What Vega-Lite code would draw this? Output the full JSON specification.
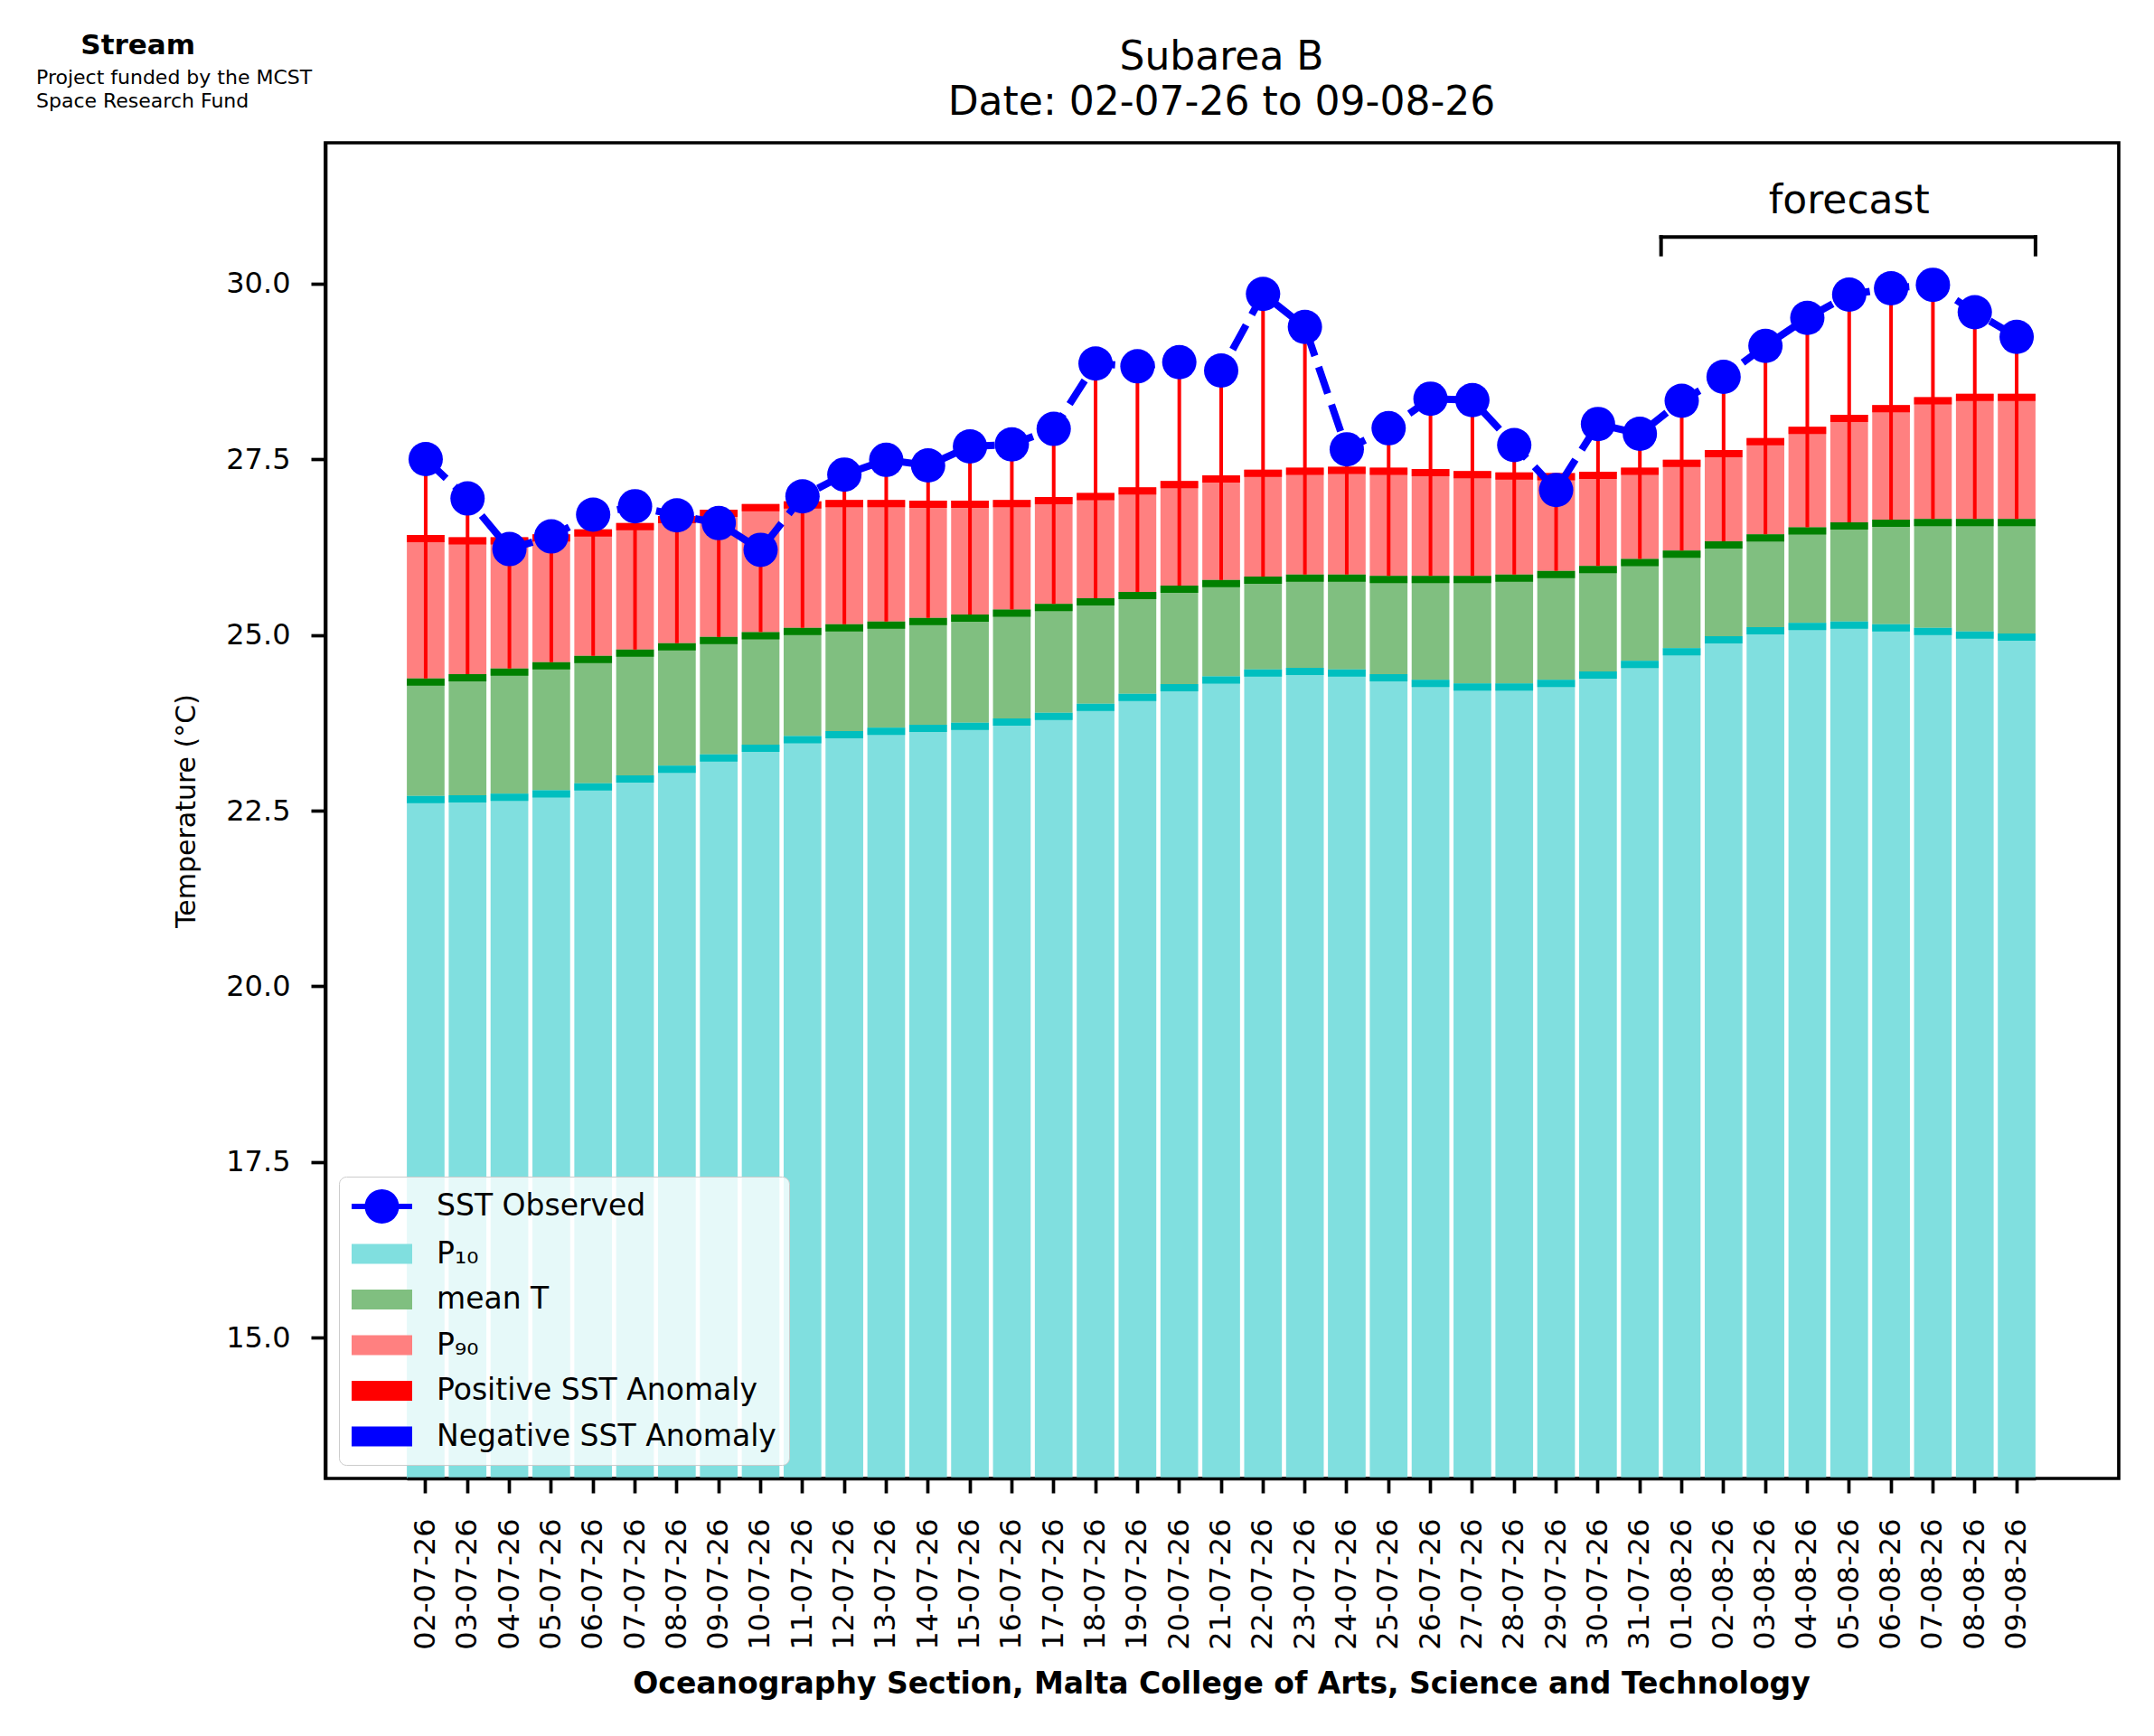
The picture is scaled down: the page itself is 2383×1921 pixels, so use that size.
{
  "$schema": "https://vega.github.io/schema/vega-lite/v6.json",
  "width": 1984,
  "height": 1478,
  "padding": {"left": 40, "top": 35, "right": 37, "bottom": 30},
  "background": "white",
  "config": {
    "font": "DejaVu Sans",
    "view": {"stroke": "black", "strokeWidth": 3.7},
    "axis": {"labelFont": "DejaVu Sans", "titleFont": "DejaVu Sans", "labelColor": "black", "titleColor": "black", "domainColor": "black", "tickColor": "black", "grid": false}
  },
  "title": {
    "text": "\u200b\u00a0\u00a0\u00a0\u00a0\u2009Stream",
    "subtitle": ["Project funded by the MCST", "Space Research Fund"],
    "anchor": "start",
    "frame": "group",
    "dx": -320,
    "offset": -83,
    "font": "DejaVu Sans",
    "fontSize": 31,
    "fontWeight": "bold",
    "color": "black",
    "subtitleFont": "DejaVu Sans",
    "subtitleFontSize": 22,
    "subtitleColor": "black",
    "subtitleLineHeight": 26,
    "subtitlePadding": 9
  },
  "datasets": {
    "sst": [
      {"date": "02-07-26", "p10": 22.71, "mean": 24.38, "p90": 26.42, "sst": 27.50},
      {"date": "03-07-26", "p10": 22.72, "mean": 24.44, "p90": 26.39, "sst": 26.94},
      {"date": "04-07-26", "p10": 22.74, "mean": 24.52, "p90": 26.39, "sst": 26.22},
      {"date": "05-07-26", "p10": 22.79, "mean": 24.61, "p90": 26.43, "sst": 26.40},
      {"date": "06-07-26", "p10": 22.89, "mean": 24.70, "p90": 26.50, "sst": 26.71},
      {"date": "07-07-26", "p10": 23.00, "mean": 24.79, "p90": 26.59, "sst": 26.83},
      {"date": "08-07-26", "p10": 23.14, "mean": 24.88, "p90": 26.69, "sst": 26.70},
      {"date": "09-07-26", "p10": 23.30, "mean": 24.97, "p90": 26.78, "sst": 26.59},
      {"date": "10-07-26", "p10": 23.44, "mean": 25.04, "p90": 26.86, "sst": 26.21},
      {"date": "11-07-26", "p10": 23.56, "mean": 25.10, "p90": 26.90, "sst": 26.97},
      {"date": "12-07-26", "p10": 23.63, "mean": 25.15, "p90": 26.92, "sst": 27.28},
      {"date": "13-07-26", "p10": 23.68, "mean": 25.19, "p90": 26.92, "sst": 27.49},
      {"date": "14-07-26", "p10": 23.72, "mean": 25.24, "p90": 26.91, "sst": 27.41},
      {"date": "15-07-26", "p10": 23.75, "mean": 25.29, "p90": 26.91, "sst": 27.68},
      {"date": "16-07-26", "p10": 23.81, "mean": 25.36, "p90": 26.92, "sst": 27.71},
      {"date": "17-07-26", "p10": 23.89, "mean": 25.44, "p90": 26.96, "sst": 27.93},
      {"date": "18-07-26", "p10": 24.02, "mean": 25.52, "p90": 27.02, "sst": 28.86},
      {"date": "19-07-26", "p10": 24.16, "mean": 25.61, "p90": 27.10, "sst": 28.82},
      {"date": "20-07-26", "p10": 24.30, "mean": 25.70, "p90": 27.19, "sst": 28.88},
      {"date": "21-07-26", "p10": 24.41, "mean": 25.78, "p90": 27.27, "sst": 28.76},
      {"date": "22-07-26", "p10": 24.51, "mean": 25.83, "p90": 27.35, "sst": 29.85},
      {"date": "23-07-26", "p10": 24.53, "mean": 25.86, "p90": 27.38, "sst": 29.38},
      {"date": "24-07-26", "p10": 24.51, "mean": 25.86, "p90": 27.39, "sst": 27.64},
      {"date": "25-07-26", "p10": 24.44, "mean": 25.84, "p90": 27.38, "sst": 27.94},
      {"date": "26-07-26", "p10": 24.36, "mean": 25.84, "p90": 27.36, "sst": 28.36},
      {"date": "27-07-26", "p10": 24.31, "mean": 25.84, "p90": 27.33, "sst": 28.34},
      {"date": "28-07-26", "p10": 24.31, "mean": 25.86, "p90": 27.31, "sst": 27.70},
      {"date": "29-07-26", "p10": 24.36, "mean": 25.91, "p90": 27.30, "sst": 27.06},
      {"date": "30-07-26", "p10": 24.48, "mean": 25.98, "p90": 27.32, "sst": 28.00},
      {"date": "31-07-26", "p10": 24.63, "mean": 26.08, "p90": 27.38, "sst": 27.86},
      {"date": "01-08-26", "p10": 24.81, "mean": 26.20, "p90": 27.49, "sst": 28.33},
      {"date": "02-08-26", "p10": 24.98, "mean": 26.33, "p90": 27.63, "sst": 28.67},
      {"date": "03-08-26", "p10": 25.11, "mean": 26.43, "p90": 27.80, "sst": 29.11},
      {"date": "04-08-26", "p10": 25.17, "mean": 26.53, "p90": 27.96, "sst": 29.51},
      {"date": "05-08-26", "p10": 25.19, "mean": 26.60, "p90": 28.13, "sst": 29.84},
      {"date": "06-08-26", "p10": 25.15, "mean": 26.64, "p90": 28.27, "sst": 29.93},
      {"date": "07-08-26", "p10": 25.10, "mean": 26.65, "p90": 28.38, "sst": 29.98},
      {"date": "08-08-26", "p10": 25.05, "mean": 26.65, "p90": 28.43, "sst": 29.59},
      {"date": "09-08-26", "p10": 25.02, "mean": 26.65, "p90": 28.43, "sst": 29.24}
    ],
    "forecast": [
      {"label": "forecast", "start": "01-08-26", "end": "09-08-26", "middle": "05-08-26"}
    ]
  },
  "data": {"name": "sst"},
  "resolve": {"axis": {"x": "independent"}},
  "layer": [
    {
      "mark": {"type": "bar", "opacity": 1},
      "encoding": {
        "x": {
          "field": "date", "type": "nominal", "sort": null,
          "scale": {"type": "band", "paddingInner": 0.1, "paddingOuter": 0, "range": [90.1, 1891.9],
            "domain": ["02-07-26","03-07-26","04-07-26","05-07-26","06-07-26","07-07-26","08-07-26","09-07-26","10-07-26","11-07-26","12-07-26","13-07-26","14-07-26","15-07-26","16-07-26","17-07-26","18-07-26","19-07-26","20-07-26","21-07-26","22-07-26","23-07-26","24-07-26","25-07-26","26-07-26","27-07-26","28-07-26","29-07-26","30-07-26","31-07-26","01-08-26","02-08-26","03-08-26","04-08-26","05-08-26","06-08-26","07-08-26","08-08-26","09-08-26"]},
          "axis": {
            "orient": "bottom",
            "title": "Oceanography Section, Malta College of Arts, Science and Technology",
            "titleFontWeight": "bold", "titleFontSize": 33, "titlePadding": 22,
            "labelAngle": -90, "labelFontSize": 32, "labelPadding": 28,
            "tickSize": 16, "tickWidth": 3.7, "domainWidth": 3.7, "zindex": 1
          }
        },
        "y": {
          "field": "p10", "type": "quantitative", "title": "Temperature (°C)",
          "scale": {"domain": [13, 32], "nice": false, "zero": false},
          "axis": {
            "values": [15, 17.5, 20, 22.5, 25, 27.5, 30], "format": ".1f",
            "labelFontSize": 32, "labelPadding": 23, "tickSize": 16, "tickWidth": 3.7,
            "domainWidth": 3.7, "titleFontSize": 30, "titleFontWeight": "normal",
            "titlePadding": 28, "zindex": 1
          }
        },
        "y2": {"datum": 13},
        "color": {
          "datum": "P₁₀", "type": "nominal",
          "scale": {
            "domain": ["SST Observed", "P₁₀", "mean T", "P₉₀", "Positive SST Anomaly", "Negative SST Anomaly"],
            "range": ["#0000ff", "#80dfdf", "#80bf80", "#ff8080", "#ff0000", "#0000ff"]
          },
          "legend": {
            "title": null, "orient": "bottom-left", "offset": 15, "zindex": 1,
            "labelFont": "DejaVu Sans", "labelFontSize": 33, "labelColor": "black", "labelLimit": 0,
            "symbolType": "M-1,-0.58H2.526V0.58H-1Z", "symbolOpacity": 1,
            "symbolSize": 1444, "symbolStrokeWidth": 0, "rowPadding": 14.5, "labelOffset": 56,
            "padding": 14, "cornerRadius": 8, "strokeColor": "#cccccc",
            "fillColor": "rgba(255,255,255,0.8)"
          }
        }
      }
    },
    {
      "mark": {"type": "bar", "opacity": 1},
      "encoding": {
        "x": {"field": "date", "type": "nominal", "sort": null, "axis": null},
        "y": {"field": "mean", "type": "quantitative", "title": "Temperature (°C)"},
        "y2": {"field": "p10"},
        "color": {"datum": "mean T", "type": "nominal"}
      }
    },
    {
      "mark": {"type": "bar", "opacity": 1},
      "encoding": {
        "x": {"field": "date", "type": "nominal", "sort": null, "axis": null},
        "y": {"field": "p90", "type": "quantitative", "title": "Temperature (°C)"},
        "y2": {"field": "mean"},
        "color": {"datum": "P₉₀", "type": "nominal"}
      }
    },
    {
      "mark": {"type": "tick", "color": "#00bfbf", "thickness": 8, "size": 41.7, "yOffset": 4, "opacity": 1},
      "encoding": {
        "x": {"field": "date", "type": "nominal", "sort": null, "axis": null},
        "y": {"field": "p10", "type": "quantitative", "title": "Temperature (°C)"}
      }
    },
    {
      "mark": {"type": "tick", "color": "#008000", "thickness": 8, "size": 41.7, "yOffset": 4, "opacity": 1},
      "encoding": {
        "x": {"field": "date", "type": "nominal", "sort": null, "axis": null},
        "y": {"field": "mean", "type": "quantitative", "title": "Temperature (°C)"}
      }
    },
    {
      "mark": {"type": "tick", "color": "#ff0000", "thickness": 8, "size": 41.7, "yOffset": 4, "opacity": 1},
      "encoding": {
        "x": {"field": "date", "type": "nominal", "sort": null, "axis": null},
        "y": {"field": "p90", "type": "quantitative", "title": "Temperature (°C)"}
      }
    },
    {
      "mark": {"type": "rule", "strokeWidth": 4},
      "encoding": {
        "x": {"field": "date", "type": "nominal", "sort": null, "axis": null},
        "y": {"field": "mean", "type": "quantitative", "title": "Temperature (°C)"},
        "y2": {"field": "sst"},
        "color": {"condition": {"test": "datum.sst >= datum.mean", "value": "#ff0000"}, "value": "#0000ff"}
      }
    },
    {
      "mark": {"type": "line", "color": "#0000ff", "strokeWidth": 8, "strokeDash": [31, 13]},
      "encoding": {
        "x": {"field": "date", "type": "nominal", "sort": null, "axis": null},
        "y": {"field": "sst", "type": "quantitative", "title": "Temperature (°C)"}
      }
    },
    {
      "mark": {"type": "point", "filled": true, "shape": "circle", "size": 1444, "opacity": 1, "strokeWidth": 0},
      "encoding": {
        "x": {
          "field": "date", "type": "nominal", "sort": null,
          "axis": {
            "orient": "top", "title": ["Subarea B", "Date: 02-07-26 to 09-08-26"],
            "titleFontSize": 44, "titleFontWeight": "normal", "titlePadding": 23,
            "titleLineHeight": 50, "labels": false, "ticks": false, "domain": false
          }
        },
        "y": {"field": "sst", "type": "quantitative", "title": "Temperature (°C)"},
        "color": {"datum": "SST Observed", "type": "nominal"}
      }
    },
    {
      "mark": {"type": "point", "filled": true, "size": 0, "strokeWidth": 0},
      "encoding": {
        "x": {"field": "date", "type": "nominal", "sort": null, "axis": null},
        "y": {"field": "sst", "type": "quantitative", "title": "Temperature (°C)"},
        "color": {"datum": "SST Observed", "type": "nominal"},
        "shape": {
          "datum": "SST Observed", "type": "nominal",
          "scale": {
            "domain": ["SST Observed", "P₁₀", "mean T", "P₉₀", "Positive SST Anomaly", "Negative SST Anomaly"],
            "range": [
              "M-1,-0.16H2.526V0.16H-1Z M1.763,0A1,1,0,1,1,-0.237,0A1,1,0,1,1,1.763,0Z",
              "M-1,-0.58H2.526V0.58H-1Z",
              "M-1,-0.58H2.526V0.58H-1Z",
              "M-1,-0.58H2.526V0.58H-1Z",
              "M-1,-0.58H2.526V0.58H-1Z",
              "M-1,-0.58H2.526V0.58H-1Z"
            ]
          },
          "legend": {"title": null}
        }
      }
    },
    {
      "data": {"name": "forecast"},
      "mark": {"type": "rule", "color": "black", "strokeWidth": 4, "strokeCap": "square", "xOffset": -2, "x2Offset": 0},
      "encoding": {
        "x": {"field": "start", "type": "nominal", "bandPosition": 0, "axis": null},
        "x2": {"field": "end", "bandPosition": 1},
        "y": {"datum": 30.66}
      }
    },
    {
      "data": {"name": "forecast"},
      "mark": {"type": "rule", "color": "black", "strokeWidth": 4, "strokeCap": "square", "xOffset": -2},
      "encoding": {
        "x": {"field": "start", "type": "nominal", "bandPosition": 0, "axis": null},
        "y": {"datum": 30.66},
        "y2": {"datum": 30.41}
      }
    },
    {
      "data": {"name": "forecast"},
      "mark": {"type": "rule", "color": "black", "strokeWidth": 4, "strokeCap": "square", "xOffset": 0},
      "encoding": {
        "x": {"field": "end", "type": "nominal", "bandPosition": 1, "axis": null},
        "y": {"datum": 30.66},
        "y2": {"datum": 30.41}
      }
    },
    {
      "data": {"name": "forecast"},
      "mark": {"type": "text", "font": "DejaVu Sans", "fontSize": 44, "color": "black", "baseline": "alphabetic", "align": "center"},
      "encoding": {
        "x": {"field": "middle", "type": "nominal", "axis": null},
        "y": {"datum": 31.0},
        "text": {"field": "label"}
      }
    }
  ]
}
